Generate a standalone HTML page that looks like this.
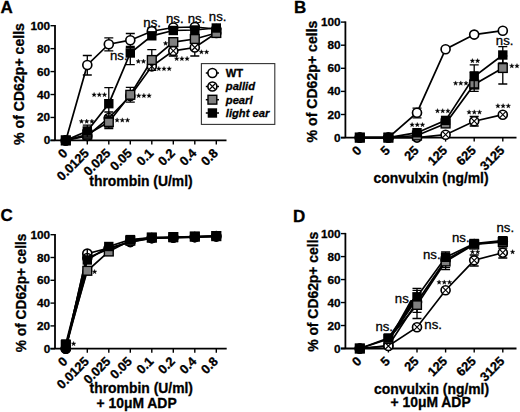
<!DOCTYPE html><html><head><meta charset="utf-8"><style>html,body{margin:0;padding:0;background:#fff;}svg{display:block;} text{stroke:#000;stroke-width:0.3px;}</style></head><body><svg width="520" height="412" viewBox="0 0 520 412" font-family='"Liberation Sans", sans-serif'>
<rect width="520" height="412" fill="#fff"/>
<text x="0.5" y="13.3" font-size="17" font-weight="bold" font-style="normal" text-anchor="start">A</text>
<path d="M55 25.0V140.4" stroke="#000" stroke-width="1.8" fill="none"/>
<path d="M50.5 140.4H226.5" stroke="#000" stroke-width="1.8" fill="none"/>
<path d="M50.5 140.40H55" stroke="#000" stroke-width="1.4"/>
<text x="50.2" y="144.4" font-size="11.8" font-weight="bold" font-style="normal" text-anchor="end">0</text>
<path d="M50.5 117.46H55" stroke="#000" stroke-width="1.4"/>
<text x="50.2" y="121.46000000000001" font-size="11.8" font-weight="bold" font-style="normal" text-anchor="end">20</text>
<path d="M50.5 94.52H55" stroke="#000" stroke-width="1.4"/>
<text x="50.2" y="98.52000000000001" font-size="11.8" font-weight="bold" font-style="normal" text-anchor="end">40</text>
<path d="M50.5 71.58H55" stroke="#000" stroke-width="1.4"/>
<text x="50.2" y="75.58000000000001" font-size="11.8" font-weight="bold" font-style="normal" text-anchor="end">60</text>
<path d="M50.5 48.64H55" stroke="#000" stroke-width="1.4"/>
<text x="50.2" y="52.64" font-size="11.8" font-weight="bold" font-style="normal" text-anchor="end">80</text>
<path d="M50.5 25.70H55" stroke="#000" stroke-width="1.4"/>
<text x="50.2" y="29.700000000000003" font-size="11.8" font-weight="bold" font-style="normal" text-anchor="end">100</text>
<path d="M65.8 140.4V144.4" stroke="#000" stroke-width="1.4"/>
<text x="68.3" y="153.9" font-size="12.8" font-weight="bold" font-style="normal" text-anchor="end" transform="rotate(-45 68.3 153.9)">0</text>
<path d="M87.3 140.4V144.4" stroke="#000" stroke-width="1.4"/>
<text x="89.8" y="153.9" font-size="12.8" font-weight="bold" font-style="normal" text-anchor="end" transform="rotate(-45 89.8 153.9)">0.0125</text>
<path d="M108.8 140.4V144.4" stroke="#000" stroke-width="1.4"/>
<text x="111.3" y="153.9" font-size="12.8" font-weight="bold" font-style="normal" text-anchor="end" transform="rotate(-45 111.3 153.9)">0.025</text>
<path d="M130.3 140.4V144.4" stroke="#000" stroke-width="1.4"/>
<text x="132.8" y="153.9" font-size="12.8" font-weight="bold" font-style="normal" text-anchor="end" transform="rotate(-45 132.8 153.9)">0.05</text>
<path d="M151.8 140.4V144.4" stroke="#000" stroke-width="1.4"/>
<text x="154.3" y="153.9" font-size="12.8" font-weight="bold" font-style="normal" text-anchor="end" transform="rotate(-45 154.3 153.9)">0.1</text>
<path d="M173.3 140.4V144.4" stroke="#000" stroke-width="1.4"/>
<text x="175.8" y="153.9" font-size="12.8" font-weight="bold" font-style="normal" text-anchor="end" transform="rotate(-45 175.8 153.9)">0.2</text>
<path d="M194.8 140.4V144.4" stroke="#000" stroke-width="1.4"/>
<text x="197.3" y="153.9" font-size="12.8" font-weight="bold" font-style="normal" text-anchor="end" transform="rotate(-45 197.3 153.9)">0.4</text>
<path d="M216.3 140.4V144.4" stroke="#000" stroke-width="1.4"/>
<text x="218.8" y="153.9" font-size="12.8" font-weight="bold" font-style="normal" text-anchor="end" transform="rotate(-45 218.8 153.9)">0.8</text>
<text x="23.6" y="84" font-size="14.1" font-weight="bold" font-style="normal" text-anchor="middle" transform="rotate(-90 23.6 84)">% of CD62p+ cells</text>
<text x="141" y="186.3" font-size="13.9" font-weight="bold" font-style="normal" text-anchor="middle">thrombin (U/ml)</text>
<polyline points="65.8,140.4 87.3,65 108.8,44.2 130.3,40.2 151.8,31.2 173.3,27.5 194.8,27 216.3,29" fill="none" stroke="#000" stroke-width="1.7"/>
<polyline points="65.8,140.4 87.3,136 108.8,118 130.3,96 151.8,66.3 173.3,50.9 194.8,47.5 216.3,33" fill="none" stroke="#000" stroke-width="1.7"/>
<polyline points="65.8,140.4 87.3,134.5 108.8,122 130.3,94.8 151.8,60 173.3,42.1 194.8,39 216.3,33" fill="none" stroke="#000" stroke-width="1.7"/>
<polyline points="65.8,140.4 87.3,131 108.8,103.7 130.3,53 151.8,35.8 173.3,30.5 194.8,30 216.3,28" fill="none" stroke="#000" stroke-width="1.7"/>
<path d="M87.3 55.5V75M82.8 55.5H91.8M82.8 75H91.8" stroke="#000" stroke-width="1.3" fill="none"/>
<path d="M108.8 37.8V50.8M104.3 37.8H113.3M104.3 50.8H113.3" stroke="#000" stroke-width="1.3" fill="none"/>
<path d="M130.3 33.5V46.5M125.80000000000001 33.5H134.8M125.80000000000001 46.5H134.8" stroke="#000" stroke-width="1.3" fill="none"/>
<path d="M151.8 28V34M147.3 28H156.3M147.3 34H156.3" stroke="#000" stroke-width="1.3" fill="none"/>
<circle cx="65.8" cy="140.4" r="4.5" fill="#fff" stroke="#000" stroke-width="1.65"/>
<circle cx="87.3" cy="65" r="4.5" fill="#fff" stroke="#000" stroke-width="1.65"/>
<circle cx="108.8" cy="44.2" r="4.5" fill="#fff" stroke="#000" stroke-width="1.65"/>
<circle cx="130.3" cy="40.2" r="4.5" fill="#fff" stroke="#000" stroke-width="1.65"/>
<circle cx="151.8" cy="31.2" r="4.5" fill="#fff" stroke="#000" stroke-width="1.65"/>
<circle cx="173.3" cy="27.5" r="4.5" fill="#fff" stroke="#000" stroke-width="1.65"/>
<circle cx="194.8" cy="27" r="4.5" fill="#fff" stroke="#000" stroke-width="1.65"/>
<circle cx="216.3" cy="29" r="4.5" fill="#fff" stroke="#000" stroke-width="1.65"/>
<path d="M108.8 112V127M104.3 112H113.3M104.3 127H113.3" stroke="#000" stroke-width="1.3" fill="none"/>
<path d="M173.3 46V56M168.8 46H177.8M168.8 56H177.8" stroke="#000" stroke-width="1.3" fill="none"/>
<path d="M194.8 40V56M190.3 40H199.3M190.3 56H199.3" stroke="#000" stroke-width="1.3" fill="none"/>
<circle cx="65.8" cy="140.4" r="4.5" fill="#fff" stroke="#000" stroke-width="1.65"/>
<path d="M62.56 137.16L69.04 143.64M62.56 143.64L69.04 137.16" stroke="#000" stroke-width="1.1"/>
<circle cx="87.3" cy="136" r="4.5" fill="#fff" stroke="#000" stroke-width="1.65"/>
<path d="M84.06 132.76L90.54 139.24M84.06 139.24L90.54 132.76" stroke="#000" stroke-width="1.1"/>
<circle cx="108.8" cy="118" r="4.5" fill="#fff" stroke="#000" stroke-width="1.65"/>
<path d="M105.56 114.76L112.04 121.24M105.56 121.24L112.04 114.76" stroke="#000" stroke-width="1.1"/>
<circle cx="130.3" cy="96" r="4.5" fill="#fff" stroke="#000" stroke-width="1.65"/>
<path d="M127.06 92.76L133.54 99.24M127.06 99.24L133.54 92.76" stroke="#000" stroke-width="1.1"/>
<circle cx="151.8" cy="66.3" r="4.5" fill="#fff" stroke="#000" stroke-width="1.65"/>
<path d="M148.56 63.06L155.04 69.54M148.56 69.54L155.04 63.06" stroke="#000" stroke-width="1.1"/>
<circle cx="173.3" cy="50.9" r="4.5" fill="#fff" stroke="#000" stroke-width="1.65"/>
<path d="M170.06 47.66L176.54 54.14M170.06 54.14L176.54 47.66" stroke="#000" stroke-width="1.1"/>
<circle cx="194.8" cy="47.5" r="4.5" fill="#fff" stroke="#000" stroke-width="1.65"/>
<path d="M191.56 44.26L198.04 50.74M191.56 50.74L198.04 44.26" stroke="#000" stroke-width="1.1"/>
<circle cx="216.3" cy="33" r="4.5" fill="#fff" stroke="#000" stroke-width="1.65"/>
<path d="M213.06 29.76L219.54 36.24M213.06 36.24L219.54 29.76" stroke="#000" stroke-width="1.1"/>
<path d="M130.3 87.3V102.2M125.80000000000001 87.3H134.8M125.80000000000001 102.2H134.8" stroke="#000" stroke-width="1.3" fill="none"/>
<path d="M151.8 49.7V70.3M147.3 49.7H156.3M147.3 70.3H156.3" stroke="#000" stroke-width="1.3" fill="none"/>
<path d="M87.3 130V139M82.8 130H91.8M82.8 139H91.8" stroke="#000" stroke-width="1.3" fill="none"/>
<path d="M108.8 116V128.5M104.3 116H113.3M104.3 128.5H113.3" stroke="#000" stroke-width="1.3" fill="none"/>
<rect x="61.4" y="136.0" width="8.8" height="8.8" fill="#808080" stroke="#000" stroke-width="1.4"/>
<rect x="82.89999999999999" y="130.1" width="8.8" height="8.8" fill="#808080" stroke="#000" stroke-width="1.4"/>
<rect x="104.39999999999999" y="117.6" width="8.8" height="8.8" fill="#808080" stroke="#000" stroke-width="1.4"/>
<rect x="125.9" y="90.39999999999999" width="8.8" height="8.8" fill="#808080" stroke="#000" stroke-width="1.4"/>
<rect x="147.4" y="55.6" width="8.8" height="8.8" fill="#808080" stroke="#000" stroke-width="1.4"/>
<rect x="168.9" y="37.7" width="8.8" height="8.8" fill="#808080" stroke="#000" stroke-width="1.4"/>
<rect x="190.4" y="34.6" width="8.8" height="8.8" fill="#808080" stroke="#000" stroke-width="1.4"/>
<rect x="211.9" y="28.6" width="8.8" height="8.8" fill="#808080" stroke="#000" stroke-width="1.4"/>
<path d="M87.3 125.2V137M82.8 125.2H91.8M82.8 137H91.8" stroke="#000" stroke-width="1.3" fill="none"/>
<path d="M108.8 87.7V118M104.3 87.7H113.3M104.3 118H113.3" stroke="#000" stroke-width="1.3" fill="none"/>
<path d="M130.3 47.7V64.6M125.80000000000001 47.7H134.8M125.80000000000001 64.6H134.8" stroke="#000" stroke-width="1.3" fill="none"/>
<rect x="61.1" y="135.7" width="9.4" height="9.4" fill="#000"/>
<rect x="82.6" y="126.3" width="9.4" height="9.4" fill="#000"/>
<rect x="104.1" y="99.0" width="9.4" height="9.4" fill="#000"/>
<rect x="125.60000000000001" y="48.300000000000004" width="9.4" height="9.4" fill="#000"/>
<rect x="147.1" y="31.099999999999998" width="9.4" height="9.4" fill="#000"/>
<rect x="168.6" y="25.8" width="9.4" height="9.4" fill="#000"/>
<rect x="190.1" y="25.3" width="9.4" height="9.4" fill="#000"/>
<rect x="211.6" y="23.3" width="9.4" height="9.4" fill="#000"/>
<polygon points="81.50,119.00 82.09,120.59 83.78,120.66 82.45,121.71 82.91,123.34 81.50,122.40 80.09,123.34 80.55,121.71 79.22,120.66 80.91,120.59" fill="#000" stroke="#000" stroke-width="0.35" stroke-linejoin="round"/>
<polygon points="86.70,119.00 87.29,120.59 88.98,120.66 87.65,121.71 88.11,123.34 86.70,122.40 85.29,123.34 85.75,121.71 84.42,120.66 86.11,120.59" fill="#000" stroke="#000" stroke-width="0.35" stroke-linejoin="round"/>
<polygon points="91.90,119.00 92.49,120.59 94.18,120.66 92.85,121.71 93.31,123.34 91.90,122.40 90.49,123.34 90.95,121.71 89.62,120.66 91.31,120.59" fill="#000" stroke="#000" stroke-width="0.35" stroke-linejoin="round"/>
<polygon points="94.10,92.40 94.69,93.99 96.38,94.06 95.05,95.11 95.51,96.74 94.10,95.80 92.69,96.74 93.15,95.11 91.82,94.06 93.51,93.99" fill="#000" stroke="#000" stroke-width="0.35" stroke-linejoin="round"/>
<polygon points="99.30,92.40 99.89,93.99 101.58,94.06 100.25,95.11 100.71,96.74 99.30,95.80 97.89,96.74 98.35,95.11 97.02,94.06 98.71,93.99" fill="#000" stroke="#000" stroke-width="0.35" stroke-linejoin="round"/>
<polygon points="104.50,92.40 105.09,93.99 106.78,94.06 105.45,95.11 105.91,96.74 104.50,95.80 103.09,96.74 103.55,95.11 102.22,94.06 103.91,93.99" fill="#000" stroke="#000" stroke-width="0.35" stroke-linejoin="round"/>
<text x="110" y="60.4" font-size="13.2" font-weight="normal" font-style="normal" text-anchor="start">ns.</text>
<polygon points="117.10,117.80 117.69,119.39 119.38,119.46 118.05,120.51 118.51,122.14 117.10,121.20 115.69,122.14 116.15,120.51 114.82,119.46 116.51,119.39" fill="#000" stroke="#000" stroke-width="0.35" stroke-linejoin="round"/>
<polygon points="122.30,117.80 122.89,119.39 124.58,119.46 123.25,120.51 123.71,122.14 122.30,121.20 120.89,122.14 121.35,120.51 120.02,119.46 121.71,119.39" fill="#000" stroke="#000" stroke-width="0.35" stroke-linejoin="round"/>
<polygon points="127.50,117.80 128.09,119.39 129.78,119.46 128.45,120.51 128.91,122.14 127.50,121.20 126.09,122.14 126.55,120.51 125.22,119.46 126.91,119.39" fill="#000" stroke="#000" stroke-width="0.35" stroke-linejoin="round"/>
<polygon points="138.70,93.30 139.29,94.89 140.98,94.96 139.65,96.01 140.11,97.64 138.70,96.70 137.29,97.64 137.75,96.01 136.42,94.96 138.11,94.89" fill="#000" stroke="#000" stroke-width="0.35" stroke-linejoin="round"/>
<polygon points="143.90,93.30 144.49,94.89 146.18,94.96 144.85,96.01 145.31,97.64 143.90,96.70 142.49,97.64 142.95,96.01 141.62,94.96 143.31,94.89" fill="#000" stroke="#000" stroke-width="0.35" stroke-linejoin="round"/>
<polygon points="149.10,93.30 149.69,94.89 151.38,94.96 150.05,96.01 150.51,97.64 149.10,96.70 147.69,97.64 148.15,96.01 146.82,94.96 148.51,94.89" fill="#000" stroke="#000" stroke-width="0.35" stroke-linejoin="round"/>
<polygon points="138.30,59.00 138.89,60.59 140.58,60.66 139.25,61.71 139.71,63.34 138.30,62.40 136.89,63.34 137.35,61.71 136.02,60.66 137.71,60.59" fill="#000" stroke="#000" stroke-width="0.35" stroke-linejoin="round"/>
<polygon points="143.50,59.00 144.09,60.59 145.78,60.66 144.45,61.71 144.91,63.34 143.50,62.40 142.09,63.34 142.55,61.71 141.22,60.66 142.91,60.59" fill="#000" stroke="#000" stroke-width="0.35" stroke-linejoin="round"/>
<polygon points="158.80,66.40 159.39,67.99 161.08,68.06 159.75,69.11 160.21,70.74 158.80,69.80 157.39,70.74 157.85,69.11 156.52,68.06 158.21,67.99" fill="#000" stroke="#000" stroke-width="0.35" stroke-linejoin="round"/>
<polygon points="164.00,66.40 164.59,67.99 166.28,68.06 164.95,69.11 165.41,70.74 164.00,69.80 162.59,70.74 163.05,69.11 161.72,68.06 163.41,67.99" fill="#000" stroke="#000" stroke-width="0.35" stroke-linejoin="round"/>
<polygon points="169.20,66.40 169.79,67.99 171.48,68.06 170.15,69.11 170.61,70.74 169.20,69.80 167.79,70.74 168.25,69.11 166.92,68.06 168.61,67.99" fill="#000" stroke="#000" stroke-width="0.35" stroke-linejoin="round"/>
<text x="143.3" y="26.9" font-size="13.2" font-weight="normal" font-style="normal" text-anchor="start">ns.</text>
<polygon points="165.60,41.00 166.19,42.59 167.88,42.66 166.55,43.71 167.01,45.34 165.60,44.40 164.19,45.34 164.65,43.71 163.32,42.66 165.01,42.59" fill="#000" stroke="#000" stroke-width="0.35" stroke-linejoin="round"/>
<polygon points="176.70,56.30 177.29,57.89 178.98,57.96 177.65,59.01 178.11,60.64 176.70,59.70 175.29,60.64 175.75,59.01 174.42,57.96 176.11,57.89" fill="#000" stroke="#000" stroke-width="0.35" stroke-linejoin="round"/>
<polygon points="181.90,56.30 182.49,57.89 184.18,57.96 182.85,59.01 183.31,60.64 181.90,59.70 180.49,60.64 180.95,59.01 179.62,57.96 181.31,57.89" fill="#000" stroke="#000" stroke-width="0.35" stroke-linejoin="round"/>
<polygon points="187.10,56.30 187.69,57.89 189.38,57.96 188.05,59.01 188.51,60.64 187.10,59.70 185.69,60.64 186.15,59.01 184.82,57.96 186.51,57.89" fill="#000" stroke="#000" stroke-width="0.35" stroke-linejoin="round"/>
<text x="166" y="22.7" font-size="13.2" font-weight="normal" font-style="normal" text-anchor="start">ns.</text>
<text x="187.7" y="22.7" font-size="13.2" font-weight="normal" font-style="normal" text-anchor="start">ns.</text>
<polygon points="201.40,49.70 201.99,51.29 203.68,51.36 202.35,52.41 202.81,54.04 201.40,53.10 199.99,54.04 200.45,52.41 199.12,51.36 200.81,51.29" fill="#000" stroke="#000" stroke-width="0.35" stroke-linejoin="round"/>
<polygon points="206.60,49.70 207.19,51.29 208.88,51.36 207.55,52.41 208.01,54.04 206.60,53.10 205.19,54.04 205.65,52.41 204.32,51.36 206.01,51.29" fill="#000" stroke="#000" stroke-width="0.35" stroke-linejoin="round"/>
<text x="208.8" y="21" font-size="13.2" font-weight="normal" font-style="normal" text-anchor="start">ns.</text>
<text x="294" y="13.3" font-size="17" font-weight="bold" font-style="normal" text-anchor="start">B</text>
<path d="M345.4 21.400000000000002V137.6" stroke="#000" stroke-width="1.8" fill="none"/>
<path d="M340.9 137.6H516.5" stroke="#000" stroke-width="1.8" fill="none"/>
<path d="M340.9 137.60H345.4" stroke="#000" stroke-width="1.4"/>
<text x="340.59999999999997" y="141.6" font-size="11.8" font-weight="bold" font-style="normal" text-anchor="end">0</text>
<path d="M340.9 114.50H345.4" stroke="#000" stroke-width="1.4"/>
<text x="340.59999999999997" y="118.5" font-size="11.8" font-weight="bold" font-style="normal" text-anchor="end">20</text>
<path d="M340.9 91.40H345.4" stroke="#000" stroke-width="1.4"/>
<text x="340.59999999999997" y="95.39999999999999" font-size="11.8" font-weight="bold" font-style="normal" text-anchor="end">40</text>
<path d="M340.9 68.30H345.4" stroke="#000" stroke-width="1.4"/>
<text x="340.59999999999997" y="72.3" font-size="11.8" font-weight="bold" font-style="normal" text-anchor="end">60</text>
<path d="M340.9 45.20H345.4" stroke="#000" stroke-width="1.4"/>
<text x="340.59999999999997" y="49.19999999999999" font-size="11.8" font-weight="bold" font-style="normal" text-anchor="end">80</text>
<path d="M340.9 22.10H345.4" stroke="#000" stroke-width="1.4"/>
<text x="340.59999999999997" y="26.099999999999994" font-size="11.8" font-weight="bold" font-style="normal" text-anchor="end">100</text>
<path d="M359.8 137.6V141.6" stroke="#000" stroke-width="1.4"/>
<text x="362.3" y="151.1" font-size="12.8" font-weight="bold" font-style="normal" text-anchor="end" transform="rotate(-45 362.3 151.1)">0</text>
<path d="M388.4 137.6V141.6" stroke="#000" stroke-width="1.4"/>
<text x="390.9" y="151.1" font-size="12.8" font-weight="bold" font-style="normal" text-anchor="end" transform="rotate(-45 390.9 151.1)">5</text>
<path d="M417 137.6V141.6" stroke="#000" stroke-width="1.4"/>
<text x="419.5" y="151.1" font-size="12.8" font-weight="bold" font-style="normal" text-anchor="end" transform="rotate(-45 419.5 151.1)">25</text>
<path d="M445.6 137.6V141.6" stroke="#000" stroke-width="1.4"/>
<text x="448.1" y="151.1" font-size="12.8" font-weight="bold" font-style="normal" text-anchor="end" transform="rotate(-45 448.1 151.1)">125</text>
<path d="M474.2 137.6V141.6" stroke="#000" stroke-width="1.4"/>
<text x="476.7" y="151.1" font-size="12.8" font-weight="bold" font-style="normal" text-anchor="end" transform="rotate(-45 476.7 151.1)">625</text>
<path d="M502.8 137.6V141.6" stroke="#000" stroke-width="1.4"/>
<text x="505.3" y="151.1" font-size="12.8" font-weight="bold" font-style="normal" text-anchor="end" transform="rotate(-45 505.3 151.1)">3125</text>
<text x="317.0" y="81.5" font-size="14.1" font-weight="bold" font-style="normal" text-anchor="middle" transform="rotate(-90 317.0 81.5)">% of CD62p+ cells</text>
<text x="431.1" y="182.6" font-size="13.9" font-weight="bold" font-style="normal" text-anchor="middle">convulxin (ng/ml)</text>
<polyline points="359.8,137.6 388.4,137.6 417,112.7 445.6,49.2 474.2,34.6 502.8,30.7" fill="none" stroke="#000" stroke-width="1.7"/>
<polyline points="359.8,137.6 388.4,137.6 417,137.6 445.6,134.7 474.2,121.2 502.8,114.7" fill="none" stroke="#000" stroke-width="1.7"/>
<polyline points="359.8,137.6 388.4,137.6 417,135.5 445.6,123.5 474.2,84.5 502.8,68" fill="none" stroke="#000" stroke-width="1.7"/>
<polyline points="359.8,137.6 388.4,137.6 417,132.7 445.6,120.4 474.2,76.5 502.8,55" fill="none" stroke="#000" stroke-width="1.7"/>
<path d="M417 108.1V117.8M412.5 108.1H421.5M412.5 117.8H421.5" stroke="#000" stroke-width="1.3" fill="none"/>
<circle cx="359.8" cy="137.6" r="4.5" fill="#fff" stroke="#000" stroke-width="1.65"/>
<circle cx="388.4" cy="137.6" r="4.5" fill="#fff" stroke="#000" stroke-width="1.65"/>
<circle cx="417" cy="112.7" r="4.5" fill="#fff" stroke="#000" stroke-width="1.65"/>
<circle cx="445.6" cy="49.2" r="4.5" fill="#fff" stroke="#000" stroke-width="1.65"/>
<circle cx="474.2" cy="34.6" r="4.5" fill="#fff" stroke="#000" stroke-width="1.65"/>
<circle cx="502.8" cy="30.7" r="4.5" fill="#fff" stroke="#000" stroke-width="1.65"/>
<path d="M474.2 116.5V126M469.7 116.5H478.7M469.7 126H478.7" stroke="#000" stroke-width="1.3" fill="none"/>
<circle cx="359.8" cy="137.6" r="4.5" fill="#fff" stroke="#000" stroke-width="1.65"/>
<path d="M356.56 134.36L363.04 140.84M356.56 140.84L363.04 134.36" stroke="#000" stroke-width="1.1"/>
<circle cx="388.4" cy="137.6" r="4.5" fill="#fff" stroke="#000" stroke-width="1.65"/>
<path d="M385.16 134.36L391.64 140.84M385.16 140.84L391.64 134.36" stroke="#000" stroke-width="1.1"/>
<circle cx="417" cy="137.6" r="4.5" fill="#fff" stroke="#000" stroke-width="1.65"/>
<path d="M413.76 134.36L420.24 140.84M413.76 140.84L420.24 134.36" stroke="#000" stroke-width="1.1"/>
<circle cx="445.6" cy="134.7" r="4.5" fill="#fff" stroke="#000" stroke-width="1.65"/>
<path d="M442.36 131.46L448.84 137.94M442.36 137.94L448.84 131.46" stroke="#000" stroke-width="1.1"/>
<circle cx="474.2" cy="121.2" r="4.5" fill="#fff" stroke="#000" stroke-width="1.65"/>
<path d="M470.96 117.96L477.44 124.44M470.96 124.44L477.44 117.96" stroke="#000" stroke-width="1.1"/>
<circle cx="502.8" cy="114.7" r="4.5" fill="#fff" stroke="#000" stroke-width="1.65"/>
<path d="M499.56 111.46L506.04 117.94M499.56 117.94L506.04 111.46" stroke="#000" stroke-width="1.1"/>
<path d="M474.2 72V91.3M469.7 72H478.7M469.7 91.3H478.7" stroke="#000" stroke-width="1.3" fill="none"/>
<path d="M502.8 56V84M498.3 56H507.3M498.3 84H507.3" stroke="#000" stroke-width="1.3" fill="none"/>
<rect x="355.40000000000003" y="133.2" width="8.8" height="8.8" fill="#808080" stroke="#000" stroke-width="1.4"/>
<rect x="384.0" y="133.2" width="8.8" height="8.8" fill="#808080" stroke="#000" stroke-width="1.4"/>
<rect x="412.6" y="131.1" width="8.8" height="8.8" fill="#808080" stroke="#000" stroke-width="1.4"/>
<rect x="441.20000000000005" y="119.1" width="8.8" height="8.8" fill="#808080" stroke="#000" stroke-width="1.4"/>
<rect x="469.8" y="80.1" width="8.8" height="8.8" fill="#808080" stroke="#000" stroke-width="1.4"/>
<rect x="498.40000000000003" y="63.6" width="8.8" height="8.8" fill="#808080" stroke="#000" stroke-width="1.4"/>
<path d="M474.2 64.8V88M469.7 64.8H478.7M469.7 88H478.7" stroke="#000" stroke-width="1.3" fill="none"/>
<path d="M502.8 46.6V63M498.3 46.6H507.3M498.3 63H507.3" stroke="#000" stroke-width="1.3" fill="none"/>
<rect x="355.1" y="132.89999999999998" width="9.4" height="9.4" fill="#000"/>
<rect x="383.7" y="132.89999999999998" width="9.4" height="9.4" fill="#000"/>
<rect x="412.3" y="127.99999999999999" width="9.4" height="9.4" fill="#000"/>
<rect x="440.90000000000003" y="115.7" width="9.4" height="9.4" fill="#000"/>
<rect x="469.5" y="71.8" width="9.4" height="9.4" fill="#000"/>
<rect x="498.1" y="50.300000000000004" width="9.4" height="9.4" fill="#000"/>
<polygon points="412.10,122.40 412.69,123.99 414.38,124.06 413.05,125.11 413.51,126.74 412.10,125.80 410.69,126.74 411.15,125.11 409.82,124.06 411.51,123.99" fill="#000" stroke="#000" stroke-width="0.35" stroke-linejoin="round"/>
<polygon points="417.30,122.40 417.89,123.99 419.58,124.06 418.25,125.11 418.71,126.74 417.30,125.80 415.89,126.74 416.35,125.11 415.02,124.06 416.71,123.99" fill="#000" stroke="#000" stroke-width="0.35" stroke-linejoin="round"/>
<polygon points="422.50,122.40 423.09,123.99 424.78,124.06 423.45,125.11 423.91,126.74 422.50,125.80 421.09,126.74 421.55,125.11 420.22,124.06 421.91,123.99" fill="#000" stroke="#000" stroke-width="0.35" stroke-linejoin="round"/>
<polygon points="437.50,108.60 438.09,110.19 439.78,110.26 438.45,111.31 438.91,112.94 437.50,112.00 436.09,112.94 436.55,111.31 435.22,110.26 436.91,110.19" fill="#000" stroke="#000" stroke-width="0.35" stroke-linejoin="round"/>
<polygon points="442.70,108.60 443.29,110.19 444.98,110.26 443.65,111.31 444.11,112.94 442.70,112.00 441.29,112.94 441.75,111.31 440.42,110.26 442.11,110.19" fill="#000" stroke="#000" stroke-width="0.35" stroke-linejoin="round"/>
<polygon points="447.90,108.60 448.49,110.19 450.18,110.26 448.85,111.31 449.31,112.94 447.90,112.00 446.49,112.94 446.95,111.31 445.62,110.26 447.31,110.19" fill="#000" stroke="#000" stroke-width="0.35" stroke-linejoin="round"/>
<polygon points="455.60,80.90 456.19,82.49 457.88,82.56 456.55,83.61 457.01,85.24 455.60,84.30 454.19,85.24 454.65,83.61 453.32,82.56 455.01,82.49" fill="#000" stroke="#000" stroke-width="0.35" stroke-linejoin="round"/>
<polygon points="460.80,80.90 461.39,82.49 463.08,82.56 461.75,83.61 462.21,85.24 460.80,84.30 459.39,85.24 459.85,83.61 458.52,82.56 460.21,82.49" fill="#000" stroke="#000" stroke-width="0.35" stroke-linejoin="round"/>
<polygon points="466.00,80.90 466.59,82.49 468.28,82.56 466.95,83.61 467.41,85.24 466.00,84.30 464.59,85.24 465.05,83.61 463.72,82.56 465.41,82.49" fill="#000" stroke="#000" stroke-width="0.35" stroke-linejoin="round"/>
<polygon points="472.40,58.50 472.99,60.09 474.68,60.16 473.35,61.21 473.81,62.84 472.40,61.90 470.99,62.84 471.45,61.21 470.12,60.16 471.81,60.09" fill="#000" stroke="#000" stroke-width="0.35" stroke-linejoin="round"/>
<polygon points="477.60,58.50 478.19,60.09 479.88,60.16 478.55,61.21 479.01,62.84 477.60,61.90 476.19,62.84 476.65,61.21 475.32,60.16 477.01,60.09" fill="#000" stroke="#000" stroke-width="0.35" stroke-linejoin="round"/>
<text x="495.8" y="44.5" font-size="13.2" font-weight="normal" font-style="normal" text-anchor="start">ns.</text>
<polygon points="511.80,63.60 512.39,65.19 514.08,65.26 512.75,66.31 513.21,67.94 511.80,67.00 510.39,67.94 510.85,66.31 509.52,65.26 511.21,65.19" fill="#000" stroke="#000" stroke-width="0.35" stroke-linejoin="round"/>
<polygon points="517.00,63.60 517.59,65.19 519.28,65.26 517.95,66.31 518.41,67.94 517.00,67.00 515.59,67.94 516.05,66.31 514.72,65.26 516.41,65.19" fill="#000" stroke="#000" stroke-width="0.35" stroke-linejoin="round"/>
<polygon points="469.10,109.80 469.69,111.39 471.38,111.46 470.05,112.51 470.51,114.14 469.10,113.20 467.69,114.14 468.15,112.51 466.82,111.46 468.51,111.39" fill="#000" stroke="#000" stroke-width="0.35" stroke-linejoin="round"/>
<polygon points="474.30,109.80 474.89,111.39 476.58,111.46 475.25,112.51 475.71,114.14 474.30,113.20 472.89,114.14 473.35,112.51 472.02,111.46 473.71,111.39" fill="#000" stroke="#000" stroke-width="0.35" stroke-linejoin="round"/>
<polygon points="479.50,109.80 480.09,111.39 481.78,111.46 480.45,112.51 480.91,114.14 479.50,113.20 478.09,114.14 478.55,112.51 477.22,111.46 478.91,111.39" fill="#000" stroke="#000" stroke-width="0.35" stroke-linejoin="round"/>
<polygon points="497.90,103.60 498.49,105.19 500.18,105.26 498.85,106.31 499.31,107.94 497.90,107.00 496.49,107.94 496.95,106.31 495.62,105.26 497.31,105.19" fill="#000" stroke="#000" stroke-width="0.35" stroke-linejoin="round"/>
<polygon points="503.10,103.60 503.69,105.19 505.38,105.26 504.05,106.31 504.51,107.94 503.10,107.00 501.69,107.94 502.15,106.31 500.82,105.26 502.51,105.19" fill="#000" stroke="#000" stroke-width="0.35" stroke-linejoin="round"/>
<polygon points="508.30,103.60 508.89,105.19 510.58,105.26 509.25,106.31 509.71,107.94 508.30,107.00 506.89,107.94 507.35,106.31 506.02,105.26 507.71,105.19" fill="#000" stroke="#000" stroke-width="0.35" stroke-linejoin="round"/>
<text x="0.5" y="221.1" font-size="17" font-weight="bold" font-style="normal" text-anchor="start">C</text>
<path d="M55 234.0V348.7" stroke="#000" stroke-width="1.8" fill="none"/>
<path d="M50.5 348.7H226.7" stroke="#000" stroke-width="1.8" fill="none"/>
<path d="M50.5 348.70H55" stroke="#000" stroke-width="1.4"/>
<text x="50.2" y="352.7" font-size="11.8" font-weight="bold" font-style="normal" text-anchor="end">0</text>
<path d="M50.5 325.90H55" stroke="#000" stroke-width="1.4"/>
<text x="50.2" y="329.9" font-size="11.8" font-weight="bold" font-style="normal" text-anchor="end">20</text>
<path d="M50.5 303.10H55" stroke="#000" stroke-width="1.4"/>
<text x="50.2" y="307.09999999999997" font-size="11.8" font-weight="bold" font-style="normal" text-anchor="end">40</text>
<path d="M50.5 280.30H55" stroke="#000" stroke-width="1.4"/>
<text x="50.2" y="284.29999999999995" font-size="11.8" font-weight="bold" font-style="normal" text-anchor="end">60</text>
<path d="M50.5 257.50H55" stroke="#000" stroke-width="1.4"/>
<text x="50.2" y="261.5" font-size="11.8" font-weight="bold" font-style="normal" text-anchor="end">80</text>
<path d="M50.5 234.70H55" stroke="#000" stroke-width="1.4"/>
<text x="50.2" y="238.7" font-size="11.8" font-weight="bold" font-style="normal" text-anchor="end">100</text>
<path d="M65.8 348.7V352.7" stroke="#000" stroke-width="1.4"/>
<text x="68.3" y="362.2" font-size="12.8" font-weight="bold" font-style="normal" text-anchor="end" transform="rotate(-45 68.3 362.2)">0</text>
<path d="M87.3 348.7V352.7" stroke="#000" stroke-width="1.4"/>
<text x="89.8" y="362.2" font-size="12.8" font-weight="bold" font-style="normal" text-anchor="end" transform="rotate(-45 89.8 362.2)">0.0125</text>
<path d="M108.8 348.7V352.7" stroke="#000" stroke-width="1.4"/>
<text x="111.3" y="362.2" font-size="12.8" font-weight="bold" font-style="normal" text-anchor="end" transform="rotate(-45 111.3 362.2)">0.025</text>
<path d="M130.3 348.7V352.7" stroke="#000" stroke-width="1.4"/>
<text x="132.8" y="362.2" font-size="12.8" font-weight="bold" font-style="normal" text-anchor="end" transform="rotate(-45 132.8 362.2)">0.05</text>
<path d="M151.8 348.7V352.7" stroke="#000" stroke-width="1.4"/>
<text x="154.3" y="362.2" font-size="12.8" font-weight="bold" font-style="normal" text-anchor="end" transform="rotate(-45 154.3 362.2)">0.1</text>
<path d="M173.3 348.7V352.7" stroke="#000" stroke-width="1.4"/>
<text x="175.8" y="362.2" font-size="12.8" font-weight="bold" font-style="normal" text-anchor="end" transform="rotate(-45 175.8 362.2)">0.2</text>
<path d="M194.8 348.7V352.7" stroke="#000" stroke-width="1.4"/>
<text x="197.3" y="362.2" font-size="12.8" font-weight="bold" font-style="normal" text-anchor="end" transform="rotate(-45 197.3 362.2)">0.4</text>
<path d="M216.3 348.7V352.7" stroke="#000" stroke-width="1.4"/>
<text x="218.8" y="362.2" font-size="12.8" font-weight="bold" font-style="normal" text-anchor="end" transform="rotate(-45 218.8 362.2)">0.8</text>
<text x="25.9" y="292.9" font-size="13.75" font-weight="bold" font-style="normal" text-anchor="middle" transform="rotate(-90 25.9 292.9)">% of CD62p+ cells</text>
<text x="141.3" y="392.6" font-size="13.9" font-weight="bold" font-style="normal" text-anchor="middle">thrombin (U/ml)</text>
<text x="136.6" y="407.5" font-size="13.9" font-weight="bold" font-style="normal" text-anchor="middle">+ 10μM ADP</text>
<polyline points="65.8,348.7 87.3,253.6 108.8,248 130.3,242.1 151.8,238.1 173.3,237.6 194.8,237.1 216.3,236.1" fill="none" stroke="#000" stroke-width="1.7"/>
<polyline points="65.8,348.7 87.3,258 108.8,249 130.3,241.6 151.8,238.1 173.3,237.6 194.8,237.1 216.3,236.6" fill="none" stroke="#000" stroke-width="1.7"/>
<polyline points="65.8,345 87.3,270.8 108.8,251.5 130.3,240.6 151.8,237.6 173.3,237.1 194.8,236.6 216.3,236.1" fill="none" stroke="#000" stroke-width="1.7"/>
<polyline points="65.8,344 87.3,260 108.8,246.5 130.3,239.6 151.8,237.5 173.3,237.5 194.8,236.5 216.3,235.8" fill="none" stroke="#000" stroke-width="1.7"/>
<polygon points="66.8,340 68.8,340 88.3,268 83.2,268" fill="#000"/>
<circle cx="65.8" cy="348.7" r="4.5" fill="#fff" stroke="#000" stroke-width="1.65"/>
<circle cx="87.3" cy="253.6" r="4.5" fill="#fff" stroke="#000" stroke-width="1.65"/>
<circle cx="108.8" cy="248" r="4.5" fill="#fff" stroke="#000" stroke-width="1.65"/>
<circle cx="130.3" cy="242.1" r="4.5" fill="#fff" stroke="#000" stroke-width="1.65"/>
<circle cx="151.8" cy="238.1" r="4.5" fill="#fff" stroke="#000" stroke-width="1.65"/>
<circle cx="173.3" cy="237.6" r="4.5" fill="#fff" stroke="#000" stroke-width="1.65"/>
<circle cx="194.8" cy="237.1" r="4.5" fill="#fff" stroke="#000" stroke-width="1.65"/>
<circle cx="216.3" cy="236.1" r="4.5" fill="#fff" stroke="#000" stroke-width="1.65"/>
<circle cx="65.8" cy="348.7" r="4.5" fill="#fff" stroke="#000" stroke-width="1.65"/>
<path d="M62.56 345.46L69.04 351.94M62.56 351.94L69.04 345.46" stroke="#000" stroke-width="1.1"/>
<circle cx="87.3" cy="258" r="4.5" fill="#fff" stroke="#000" stroke-width="1.65"/>
<path d="M84.06 254.76L90.54 261.24M84.06 261.24L90.54 254.76" stroke="#000" stroke-width="1.1"/>
<circle cx="108.8" cy="249" r="4.5" fill="#fff" stroke="#000" stroke-width="1.65"/>
<path d="M105.56 245.76L112.04 252.24M105.56 252.24L112.04 245.76" stroke="#000" stroke-width="1.1"/>
<circle cx="130.3" cy="241.6" r="4.5" fill="#fff" stroke="#000" stroke-width="1.65"/>
<path d="M127.06 238.36L133.54 244.84M127.06 244.84L133.54 238.36" stroke="#000" stroke-width="1.1"/>
<circle cx="151.8" cy="238.1" r="4.5" fill="#fff" stroke="#000" stroke-width="1.65"/>
<path d="M148.56 234.86L155.04 241.34M148.56 241.34L155.04 234.86" stroke="#000" stroke-width="1.1"/>
<circle cx="173.3" cy="237.6" r="4.5" fill="#fff" stroke="#000" stroke-width="1.65"/>
<path d="M170.06 234.36L176.54 240.84M170.06 240.84L176.54 234.36" stroke="#000" stroke-width="1.1"/>
<circle cx="194.8" cy="237.1" r="4.5" fill="#fff" stroke="#000" stroke-width="1.65"/>
<path d="M191.56 233.86L198.04 240.34M191.56 240.34L198.04 233.86" stroke="#000" stroke-width="1.1"/>
<circle cx="216.3" cy="236.6" r="4.5" fill="#fff" stroke="#000" stroke-width="1.65"/>
<path d="M213.06 233.36L219.54 239.84M213.06 239.84L219.54 233.36" stroke="#000" stroke-width="1.1"/>
<rect x="61.4" y="340.6" width="8.8" height="8.8" fill="#808080" stroke="#000" stroke-width="1.4"/>
<rect x="82.89999999999999" y="266.40000000000003" width="8.8" height="8.8" fill="#808080" stroke="#000" stroke-width="1.4"/>
<rect x="104.39999999999999" y="247.1" width="8.8" height="8.8" fill="#808080" stroke="#000" stroke-width="1.4"/>
<rect x="125.9" y="236.2" width="8.8" height="8.8" fill="#808080" stroke="#000" stroke-width="1.4"/>
<rect x="147.4" y="233.2" width="8.8" height="8.8" fill="#808080" stroke="#000" stroke-width="1.4"/>
<rect x="168.9" y="232.7" width="8.8" height="8.8" fill="#808080" stroke="#000" stroke-width="1.4"/>
<rect x="190.4" y="232.2" width="8.8" height="8.8" fill="#808080" stroke="#000" stroke-width="1.4"/>
<rect x="211.9" y="231.7" width="8.8" height="8.8" fill="#808080" stroke="#000" stroke-width="1.4"/>
<rect x="61.1" y="339.3" width="9.4" height="9.4" fill="#000"/>
<rect x="82.6" y="255.29999999999998" width="9.4" height="9.4" fill="#000"/>
<rect x="104.1" y="241.79999999999998" width="9.4" height="9.4" fill="#000"/>
<rect x="125.60000000000001" y="234.89999999999998" width="9.4" height="9.4" fill="#000"/>
<rect x="147.1" y="232.79999999999998" width="9.4" height="9.4" fill="#000"/>
<rect x="168.6" y="232.79999999999998" width="9.4" height="9.4" fill="#000"/>
<rect x="190.1" y="231.79999999999998" width="9.4" height="9.4" fill="#000"/>
<rect x="211.6" y="231.1" width="9.4" height="9.4" fill="#000"/>
<path d="M87.3 249.5V258" stroke="#000" stroke-width="1.4"/>
<circle cx="65.8" cy="348.3" r="5.1" fill="#000"/>
<polygon points="73.60,341.40 74.19,342.99 75.88,343.06 74.55,344.11 75.01,345.74 73.60,344.80 72.19,345.74 72.65,344.11 71.32,343.06 73.01,342.99" fill="#000" stroke="#000" stroke-width="0.35" stroke-linejoin="round"/>
<polygon points="94.60,269.40 95.19,270.99 96.88,271.06 95.55,272.11 96.01,273.74 94.60,272.80 93.19,273.74 93.65,272.11 92.32,271.06 94.01,270.99" fill="#000" stroke="#000" stroke-width="0.35" stroke-linejoin="round"/>
<text x="293" y="221.5" font-size="17" font-weight="bold" font-style="normal" text-anchor="start">D</text>
<path d="M345.4 232.9V348.5" stroke="#000" stroke-width="1.8" fill="none"/>
<path d="M340.9 348.5H516.5" stroke="#000" stroke-width="1.8" fill="none"/>
<path d="M340.9 348.50H345.4" stroke="#000" stroke-width="1.4"/>
<text x="340.59999999999997" y="352.5" font-size="11.8" font-weight="bold" font-style="normal" text-anchor="end">0</text>
<path d="M340.9 325.52H345.4" stroke="#000" stroke-width="1.4"/>
<text x="340.59999999999997" y="329.52" font-size="11.8" font-weight="bold" font-style="normal" text-anchor="end">20</text>
<path d="M340.9 302.54H345.4" stroke="#000" stroke-width="1.4"/>
<text x="340.59999999999997" y="306.54" font-size="11.8" font-weight="bold" font-style="normal" text-anchor="end">40</text>
<path d="M340.9 279.56H345.4" stroke="#000" stroke-width="1.4"/>
<text x="340.59999999999997" y="283.56" font-size="11.8" font-weight="bold" font-style="normal" text-anchor="end">60</text>
<path d="M340.9 256.58H345.4" stroke="#000" stroke-width="1.4"/>
<text x="340.59999999999997" y="260.58" font-size="11.8" font-weight="bold" font-style="normal" text-anchor="end">80</text>
<path d="M340.9 233.60H345.4" stroke="#000" stroke-width="1.4"/>
<text x="340.59999999999997" y="237.6" font-size="11.8" font-weight="bold" font-style="normal" text-anchor="end">100</text>
<path d="M359.8 348.5V352.5" stroke="#000" stroke-width="1.4"/>
<text x="362.3" y="362.0" font-size="12.8" font-weight="bold" font-style="normal" text-anchor="end" transform="rotate(-45 362.3 362.0)">0</text>
<path d="M388.4 348.5V352.5" stroke="#000" stroke-width="1.4"/>
<text x="390.9" y="362.0" font-size="12.8" font-weight="bold" font-style="normal" text-anchor="end" transform="rotate(-45 390.9 362.0)">5</text>
<path d="M417 348.5V352.5" stroke="#000" stroke-width="1.4"/>
<text x="419.5" y="362.0" font-size="12.8" font-weight="bold" font-style="normal" text-anchor="end" transform="rotate(-45 419.5 362.0)">25</text>
<path d="M445.6 348.5V352.5" stroke="#000" stroke-width="1.4"/>
<text x="448.1" y="362.0" font-size="12.8" font-weight="bold" font-style="normal" text-anchor="end" transform="rotate(-45 448.1 362.0)">125</text>
<path d="M474.2 348.5V352.5" stroke="#000" stroke-width="1.4"/>
<text x="476.7" y="362.0" font-size="12.8" font-weight="bold" font-style="normal" text-anchor="end" transform="rotate(-45 476.7 362.0)">625</text>
<path d="M502.8 348.5V352.5" stroke="#000" stroke-width="1.4"/>
<text x="505.3" y="362.0" font-size="12.8" font-weight="bold" font-style="normal" text-anchor="end" transform="rotate(-45 505.3 362.0)">3125</text>
<text x="318.2" y="291.8" font-size="13.9" font-weight="bold" font-style="normal" text-anchor="middle" transform="rotate(-90 318.2 291.8)">% of CD62p+ cells</text>
<text x="431.6" y="393.5" font-size="13.9" font-weight="bold" font-style="normal" text-anchor="middle">convulxin (ng/ml)</text>
<text x="430.6" y="407.3" font-size="13.9" font-weight="bold" font-style="normal" text-anchor="middle">+ 10μM ADP</text>
<polyline points="359.8,348.5 388.4,345.6 417,302 445.6,260 474.2,244 502.8,241.5" fill="none" stroke="#000" stroke-width="1.7"/>
<polyline points="359.8,348.5 388.4,346 417,327.2 445.6,290.2 474.2,260.3 502.8,252.7" fill="none" stroke="#000" stroke-width="1.7"/>
<polyline points="359.8,348.5 388.4,339 417,304.9 445.6,261.5 474.2,244.5 502.8,241.9" fill="none" stroke="#000" stroke-width="1.7"/>
<polyline points="359.8,348.5 388.4,338 417,296.8 445.6,257.3 474.2,243.5 502.8,240.7" fill="none" stroke="#000" stroke-width="1.7"/>
<polygon points="389.3,338 391.2,338 417,300 410.5,300" fill="#000"/>
<path d="M417 288.4V318.5M412.5 288.4H421.5M412.5 318.5H421.5" stroke="#000" stroke-width="1.3" fill="none"/>
<path d="M445.6 252V269.6M441.1 252H450.1M441.1 269.6H450.1" stroke="#000" stroke-width="1.3" fill="none"/>
<circle cx="359.8" cy="348.5" r="4.5" fill="#fff" stroke="#000" stroke-width="1.65"/>
<circle cx="388.4" cy="345.6" r="4.5" fill="#fff" stroke="#000" stroke-width="1.65"/>
<circle cx="417" cy="302" r="4.5" fill="#fff" stroke="#000" stroke-width="1.65"/>
<circle cx="445.6" cy="260" r="4.5" fill="#fff" stroke="#000" stroke-width="1.65"/>
<circle cx="474.2" cy="244" r="4.5" fill="#fff" stroke="#000" stroke-width="1.65"/>
<circle cx="502.8" cy="241.5" r="4.5" fill="#fff" stroke="#000" stroke-width="1.65"/>
<path d="M474.2 255V266M469.7 255H478.7M469.7 266H478.7" stroke="#000" stroke-width="1.3" fill="none"/>
<path d="M502.8 248V258M498.3 248H507.3M498.3 258H507.3" stroke="#000" stroke-width="1.3" fill="none"/>
<circle cx="359.8" cy="348.5" r="4.5" fill="#fff" stroke="#000" stroke-width="1.65"/>
<path d="M356.56 345.26L363.04 351.74M356.56 351.74L363.04 345.26" stroke="#000" stroke-width="1.1"/>
<circle cx="388.4" cy="346" r="4.5" fill="#fff" stroke="#000" stroke-width="1.65"/>
<path d="M385.16 342.76L391.64 349.24M385.16 349.24L391.64 342.76" stroke="#000" stroke-width="1.1"/>
<circle cx="417" cy="327.2" r="4.5" fill="#fff" stroke="#000" stroke-width="1.65"/>
<path d="M413.76 323.96L420.24 330.44M413.76 330.44L420.24 323.96" stroke="#000" stroke-width="1.1"/>
<circle cx="445.6" cy="290.2" r="4.5" fill="#fff" stroke="#000" stroke-width="1.65"/>
<path d="M442.36 286.96L448.84 293.44M442.36 293.44L448.84 286.96" stroke="#000" stroke-width="1.1"/>
<circle cx="474.2" cy="260.3" r="4.5" fill="#fff" stroke="#000" stroke-width="1.65"/>
<path d="M470.96 257.06L477.44 263.54M470.96 263.54L477.44 257.06" stroke="#000" stroke-width="1.1"/>
<circle cx="502.8" cy="252.7" r="4.5" fill="#fff" stroke="#000" stroke-width="1.65"/>
<path d="M499.56 249.46L506.04 255.94M499.56 255.94L506.04 249.46" stroke="#000" stroke-width="1.1"/>
<path d="M445.6 255V267.7M441.1 255H450.1M441.1 267.7H450.1" stroke="#000" stroke-width="1.3" fill="none"/>
<path d="M417 300V312.3M412.5 300H421.5M412.5 312.3H421.5" stroke="#000" stroke-width="1.3" fill="none"/>
<rect x="355.40000000000003" y="344.1" width="8.8" height="8.8" fill="#808080" stroke="#000" stroke-width="1.4"/>
<rect x="384.0" y="334.6" width="8.8" height="8.8" fill="#808080" stroke="#000" stroke-width="1.4"/>
<rect x="412.6" y="300.5" width="8.8" height="8.8" fill="#808080" stroke="#000" stroke-width="1.4"/>
<rect x="441.20000000000005" y="257.1" width="8.8" height="8.8" fill="#808080" stroke="#000" stroke-width="1.4"/>
<rect x="469.8" y="240.1" width="8.8" height="8.8" fill="#808080" stroke="#000" stroke-width="1.4"/>
<rect x="498.40000000000003" y="237.5" width="8.8" height="8.8" fill="#808080" stroke="#000" stroke-width="1.4"/>
<path d="M417 290.4V300M412.5 290.4H421.5M412.5 300H421.5" stroke="#000" stroke-width="1.3" fill="none"/>
<rect x="355.1" y="343.8" width="9.4" height="9.4" fill="#000"/>
<rect x="383.7" y="333.3" width="9.4" height="9.4" fill="#000"/>
<rect x="412.3" y="292.1" width="9.4" height="9.4" fill="#000"/>
<rect x="440.90000000000003" y="252.6" width="9.4" height="9.4" fill="#000"/>
<rect x="469.5" y="238.79999999999998" width="9.4" height="9.4" fill="#000"/>
<rect x="498.1" y="235.99999999999997" width="9.4" height="9.4" fill="#000"/>
<text x="375.4" y="331.1" font-size="13.2" font-weight="normal" font-style="normal" text-anchor="start">ns.</text>
<text x="394.8" y="303" font-size="13.2" font-weight="normal" font-style="normal" text-anchor="start">ns.</text>
<text x="424.3" y="329.2" font-size="13.2" font-weight="normal" font-style="normal" text-anchor="start">ns.</text>
<text x="423" y="259" font-size="13.2" font-weight="normal" font-style="normal" text-anchor="start">ns.</text>
<polygon points="439.10,279.90 439.69,281.49 441.38,281.56 440.05,282.61 440.51,284.24 439.10,283.30 437.69,284.24 438.15,282.61 436.82,281.56 438.51,281.49" fill="#000" stroke="#000" stroke-width="0.35" stroke-linejoin="round"/>
<polygon points="444.30,279.90 444.89,281.49 446.58,281.56 445.25,282.61 445.71,284.24 444.30,283.30 442.89,284.24 443.35,282.61 442.02,281.56 443.71,281.49" fill="#000" stroke="#000" stroke-width="0.35" stroke-linejoin="round"/>
<polygon points="449.50,279.90 450.09,281.49 451.78,281.56 450.45,282.61 450.91,284.24 449.50,283.30 448.09,284.24 448.55,282.61 447.22,281.56 448.91,281.49" fill="#000" stroke="#000" stroke-width="0.35" stroke-linejoin="round"/>
<text x="452" y="242.3" font-size="13.2" font-weight="normal" font-style="normal" text-anchor="start">ns.</text>
<polygon points="472.50,249.60 473.09,251.19 474.78,251.26 473.45,252.31 473.91,253.94 472.50,253.00 471.09,253.94 471.55,252.31 470.22,251.26 471.91,251.19" fill="#000" stroke="#000" stroke-width="0.35" stroke-linejoin="round"/>
<polygon points="477.70,249.60 478.29,251.19 479.98,251.26 478.65,252.31 479.11,253.94 477.70,253.00 476.29,253.94 476.75,252.31 475.42,251.26 477.11,251.19" fill="#000" stroke="#000" stroke-width="0.35" stroke-linejoin="round"/>
<text x="496.5" y="232" font-size="13.2" font-weight="normal" font-style="normal" text-anchor="start">ns.</text>
<polygon points="512.60,249.60 513.19,251.19 514.88,251.26 513.55,252.31 514.01,253.94 512.60,253.00 511.19,253.94 511.65,252.31 510.32,251.26 512.01,251.19" fill="#000" stroke="#000" stroke-width="0.35" stroke-linejoin="round"/>
<rect x="201.4" y="63.6" width="73.4" height="60.8" fill="#fff" stroke="#333" stroke-width="1.1"/>
<path d="M205.8 73H219" stroke="#000" stroke-width="1.5"/>
<circle cx="212.4" cy="73" r="4.5" fill="#fff" stroke="#000" stroke-width="1.65"/>
<text x="225.8" y="76.9" font-size="11.2" font-weight="bold" font-style="normal" text-anchor="start">WT</text>
<path d="M205.8 86.5H219" stroke="#000" stroke-width="1.5"/>
<circle cx="212.4" cy="86.5" r="4.5" fill="#fff" stroke="#000" stroke-width="1.65"/>
<path d="M209.16 83.26L215.64 89.74M209.16 89.74L215.64 83.26" stroke="#000" stroke-width="1.1"/>
<text x="225.8" y="90.4" font-size="11.2" font-weight="bold" font-style="italic" text-anchor="start">pallid</text>
<path d="M205.8 99.7H219" stroke="#000" stroke-width="1.5"/>
<rect x="208.0" y="95.3" width="8.8" height="8.8" fill="#808080" stroke="#000" stroke-width="1.4"/>
<text x="225.8" y="103.60000000000001" font-size="11.2" font-weight="bold" font-style="italic" text-anchor="start">pearl</text>
<path d="M205.8 113H219" stroke="#000" stroke-width="1.5"/>
<rect x="207.7" y="108.3" width="9.4" height="9.4" fill="#000"/>
<text x="225.8" y="116.9" font-size="11.2" font-weight="bold" font-style="italic" text-anchor="start">light ear</text>
</svg></body></html>
